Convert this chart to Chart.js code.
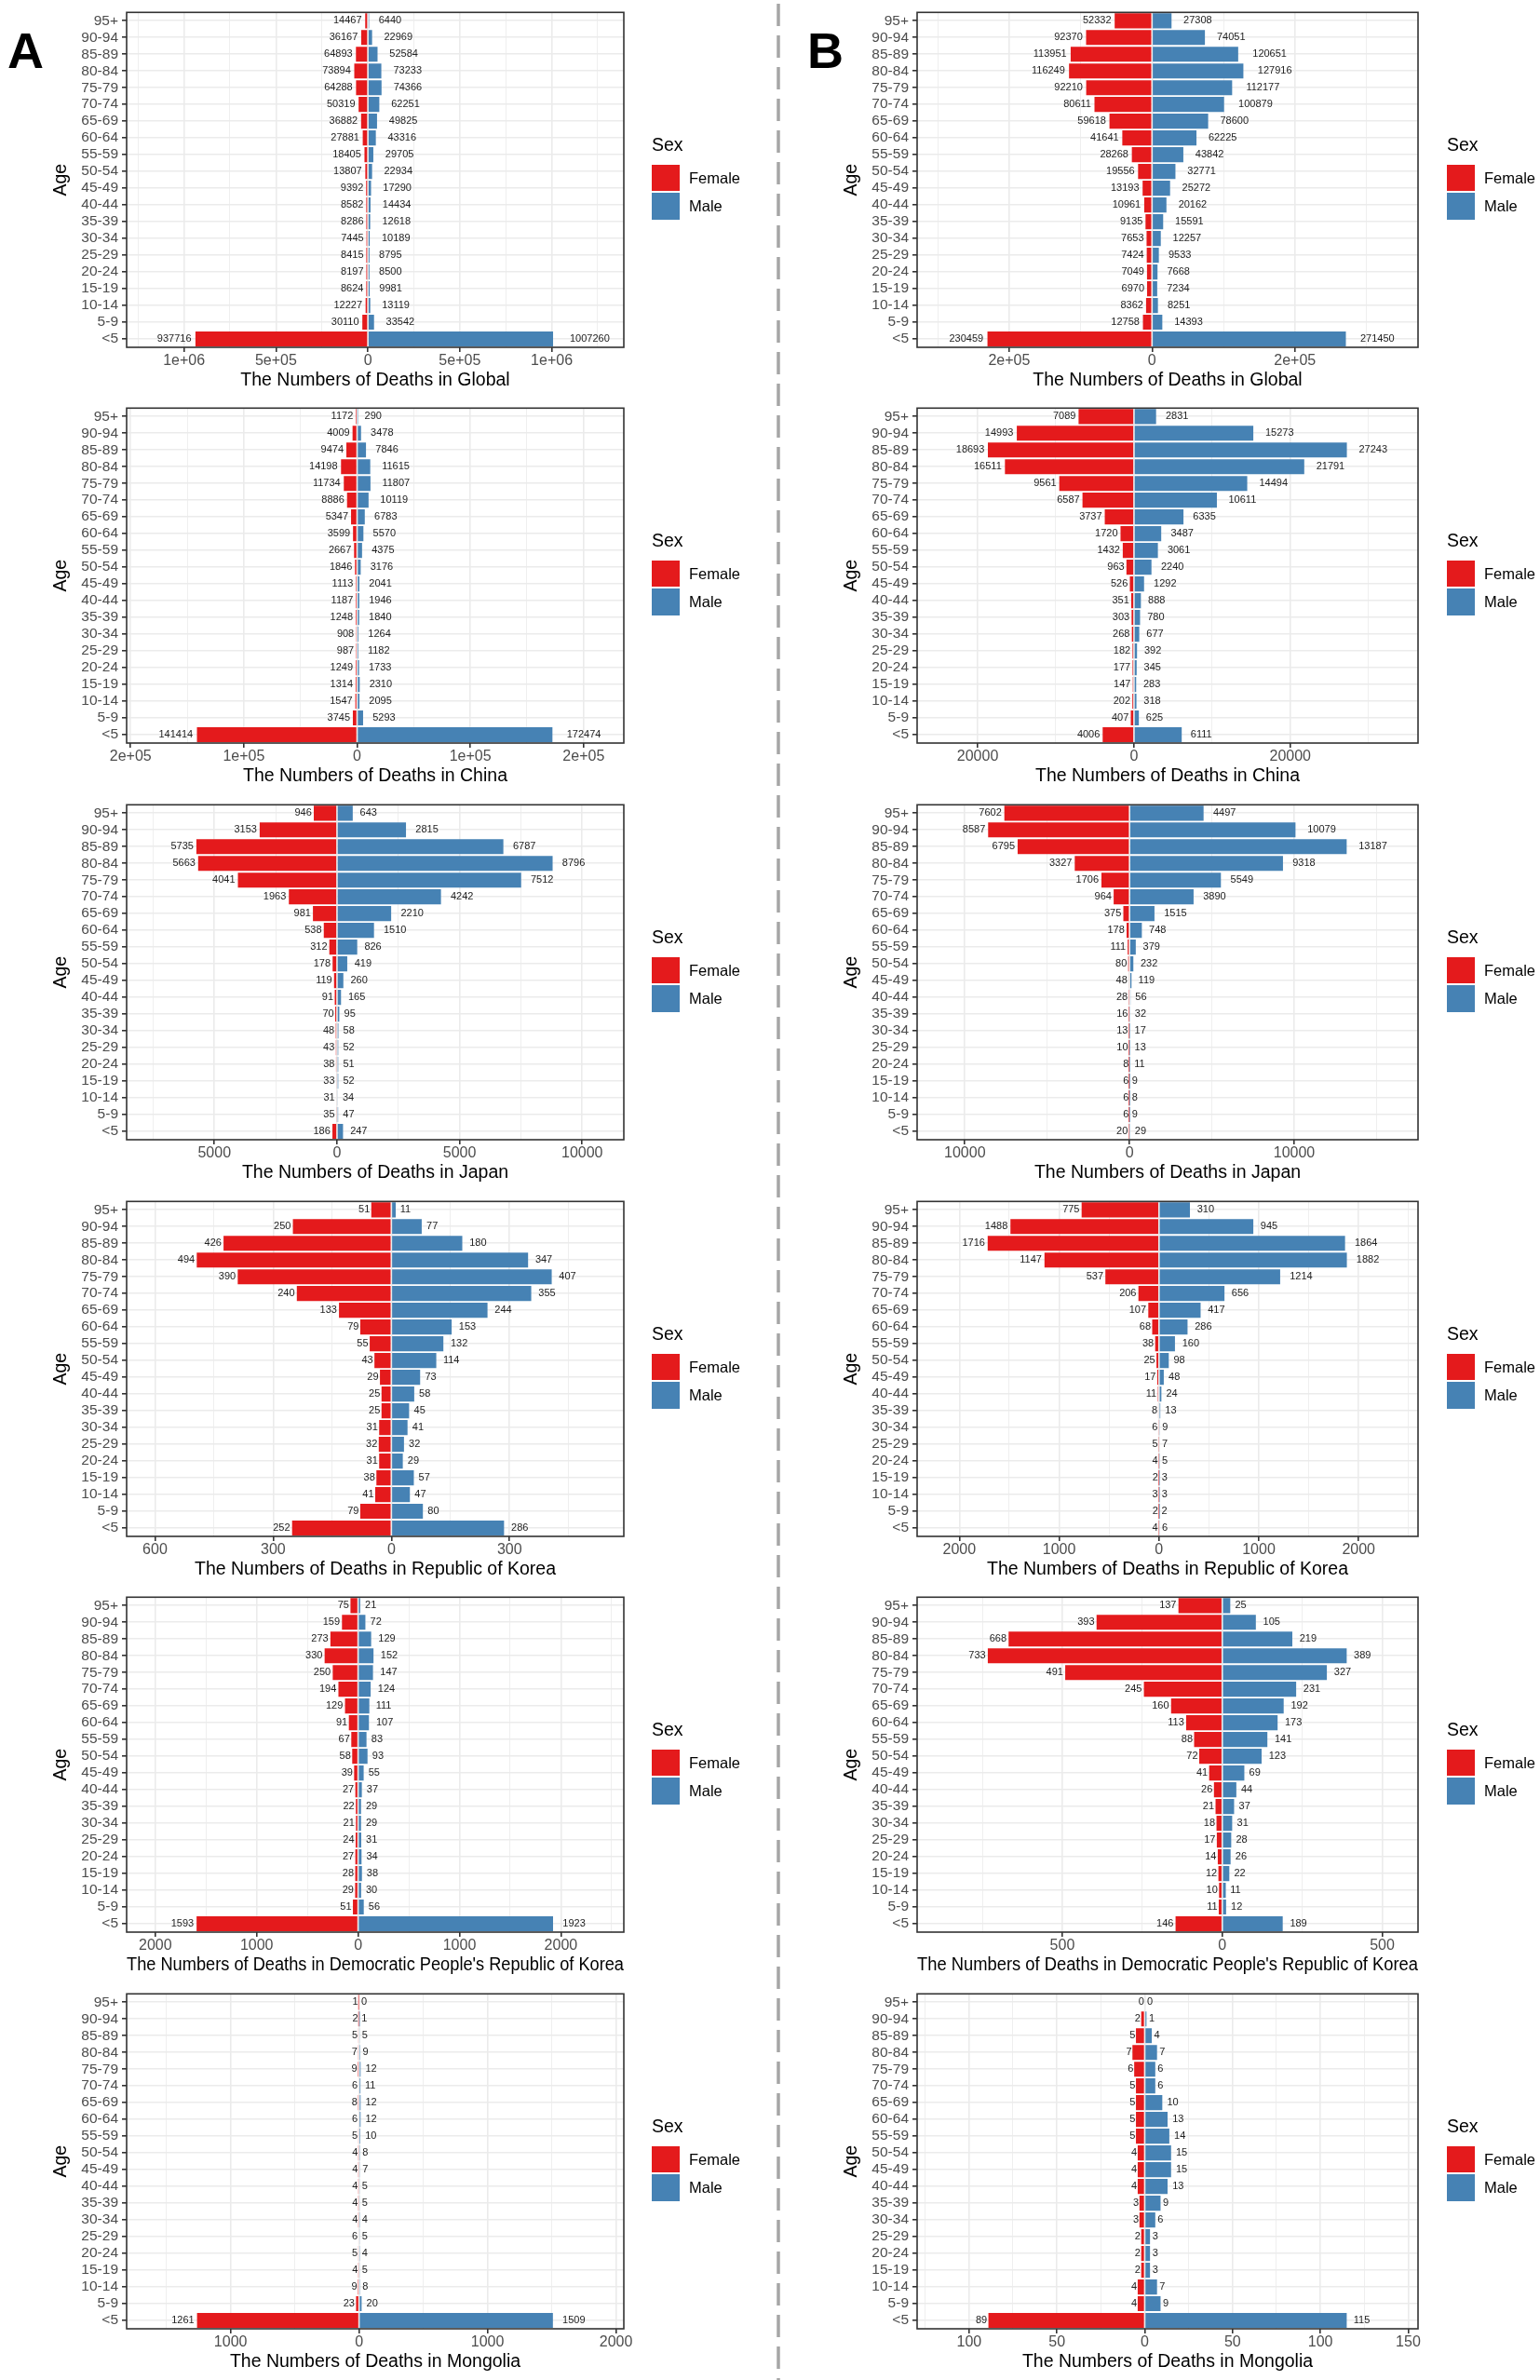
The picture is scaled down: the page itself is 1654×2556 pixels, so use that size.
<!DOCTYPE html>
<html>
<head>
<meta charset="utf-8">
<script src="https://cdn.jsdelivr.net/npm/chart.js@4.4.1/dist/chart.umd.min.js"></script>
<style>
  html, body { margin: 0; padding: 0; background: #fff; }
  #page { position: relative; width: 1654px; height: 2556px; background: #fff; overflow: hidden; }
  #page canvas { position: absolute; }
</style>
</head>
<body>
<div id="page"><canvas id="overlay" width="1654" height="2556" style="left:0;top:0"></canvas></div>
<script>
// age groups, top to bottom
const ageGroups = ['95+', '90-94', '85-89', '80-84', '75-79', '70-74', '65-69', '60-64', '55-59', '50-54',
    '45-49', '40-44', '35-39', '30-34', '25-29', '20-24', '15-19', '10-14', '5-9', '<5'];

// column A
const globalFemaleA = [14467, 36167, 64893, 73894, 64288, 50319, 36882, 27881, 18405, 13807, 9392, 8582, 8286, 7445, 8415, 8197, 8624, 12227, 30110, 937716];
const globalMaleA = [6440, 22969, 52584, 73233, 74366, 62251, 49825, 43316, 29705, 22934, 17290, 14434, 12618, 10189, 8795, 8500, 9981, 13119, 33542, 1007260];
const chinaFemaleA = [1172, 4009, 9474, 14198, 11734, 8886, 5347, 3599, 2667, 1846, 1113, 1187, 1248, 908, 987, 1249, 1314, 1547, 3745, 141414];
const chinaMaleA = [290, 3478, 7846, 11615, 11807, 10119, 6783, 5570, 4375, 3176, 2041, 1946, 1840, 1264, 1182, 1733, 2310, 2095, 5293, 172474];
const japanFemaleA = [946, 3153, 5735, 5663, 4041, 1963, 981, 538, 312, 178, 119, 91, 70, 48, 43, 38, 33, 31, 35, 186];
const japanMaleA = [643, 2815, 6787, 8796, 7512, 4242, 2210, 1510, 826, 419, 260, 165, 95, 58, 52, 51, 52, 34, 47, 247];
const koreaFemaleA = [51, 250, 426, 494, 390, 240, 133, 79, 55, 43, 29, 25, 25, 31, 32, 31, 38, 41, 79, 252];
const koreaMaleA = [11, 77, 180, 347, 407, 355, 244, 153, 132, 114, 73, 58, 45, 41, 32, 29, 57, 47, 80, 286];
const dprkFemaleA = [75, 159, 273, 330, 250, 194, 129, 91, 67, 58, 39, 27, 22, 21, 24, 27, 28, 29, 51, 1593];
const dprkMaleA = [21, 72, 129, 152, 147, 124, 111, 107, 83, 93, 55, 37, 29, 29, 31, 34, 38, 30, 56, 1923];
const mongoliaFemaleA = [1, 2, 5, 7, 9, 6, 8, 6, 5, 4, 4, 4, 4, 4, 6, 5, 4, 9, 23, 1261];
const mongoliaMaleA = [0, 1, 5, 9, 12, 11, 12, 12, 10, 8, 7, 5, 5, 4, 5, 4, 5, 8, 20, 1509];

// column B
const globalFemaleB = [52332, 92370, 113951, 116249, 92210, 80611, 59618, 41641, 28268, 19556, 13193, 10961, 9135, 7653, 7424, 7049, 6970, 8362, 12758, 230459];
const globalMaleB = [27308, 74051, 120651, 127916, 112177, 100879, 78600, 62225, 43842, 32771, 25272, 20162, 15591, 12257, 9533, 7668, 7234, 8251, 14393, 271450];
const chinaFemaleB = [7089, 14993, 18693, 16511, 9561, 6587, 3737, 1720, 1432, 963, 526, 351, 303, 268, 182, 177, 147, 202, 407, 4006];
const chinaMaleB = [2831, 15273, 27243, 21791, 14494, 10611, 6335, 3487, 3061, 2240, 1292, 888, 780, 677, 392, 345, 283, 318, 625, 6111];
const japanFemaleB = [7602, 8587, 6795, 3327, 1706, 964, 375, 178, 111, 80, 48, 28, 16, 13, 10, 8, 6, 6, 6, 20];
const japanMaleB = [4497, 10079, 13187, 9318, 5549, 3890, 1515, 748, 379, 232, 119, 56, 32, 17, 13, 11, 9, 8, 9, 29];
const koreaFemaleB = [775, 1488, 1716, 1147, 537, 206, 107, 68, 38, 25, 17, 11, 8, 6, 5, 4, 2, 3, 2, 4];
const koreaMaleB = [310, 945, 1864, 1882, 1214, 656, 417, 286, 160, 98, 48, 24, 13, 9, 7, 5, 3, 3, 2, 6];
const dprkFemaleB = [137, 393, 668, 733, 491, 245, 160, 113, 88, 72, 41, 26, 21, 18, 17, 14, 12, 10, 11, 146];
const dprkMaleB = [25, 105, 219, 389, 327, 231, 192, 173, 141, 123, 69, 44, 37, 31, 28, 26, 22, 11, 12, 189];
const mongoliaFemaleB = [0, 2, 5, 7, 6, 5, 5, 5, 5, 4, 4, 4, 3, 3, 2, 2, 2, 4, 4, 89];
const mongoliaMaleB = [0, 1, 4, 7, 6, 6, 10, 13, 14, 15, 15, 13, 9, 6, 3, 3, 3, 7, 9, 115];

// x axis limits and major ticks
const globalLimitsA = [-1312000, 1392000];
const globalTicksA = [-1000000, -500000, 0, 500000, 1000000];
const globalTickLabelsA = ['1e+06', '5e+05', '0', '5e+05', '1e+06'];
const globalLimitsB = [-329000, 372500];
const globalTicksB = [-200000, 0, 200000];
const globalTickLabelsB = ['2e+05', '0', '2e+05'];
const chinaLimitsA = [-203500, 235500];
const chinaTicksA = [-200000, -100000, 0, 100000, 200000];
const chinaTickLabelsA = ['2e+05', '1e+05', '0', '1e+05', '2e+05'];
const chinaLimitsB = [-27750, 36350];
const chinaTicksB = [-20000, 0, 20000];
const japanLimitsA = [-8580, 11700];
const japanTicksA = [-5000, 0, 5000, 10000];
const japanLimitsB = [-12900, 17520];
const japanTicksB = [-10000, 0, 10000];
const koreaLimitsA = [-672, 590];
const koreaTicksA = [-600, -300, 0, 300];
const koreaLimitsB = [-2423, 2595];
const koreaTicksB = [-2000, -1000, 0, 1000, 2000];
const dprkLimitsA = [-2283, 2621];
const dprkTicksA = [-2000, -1000, 0, 1000, 2000];
const dprkLimitsB = [-954, 612];
const dprkTicksB = [-500, 0, 500];
const mongoliaLimitsA = [-1809, 2061];
const mongoliaTicksA = [-1000, 0, 1000, 2000];
const mongoliaLimitsB = [-129.6, 155.6];
const mongoliaTicksB = [-100, -50, 0, 50, 100, 150];

const FONT = "'Liberation Sans', Arial, Helvetica, sans-serif";
const femaleColor = '#E41A1C';
const maleColor = '#4682B4';
const gridColor = '#ebebeb';
Chart.defaults.font.family = FONT;

const panels = [
    ['Global', globalFemaleA, globalMaleA, globalLimitsA, globalTicksA, globalTickLabelsA,
     globalFemaleB, globalMaleB, globalLimitsB, globalTicksB, globalTickLabelsB],
    ['China', chinaFemaleA, chinaMaleA, chinaLimitsA, chinaTicksA, chinaTickLabelsA,
     chinaFemaleB, chinaMaleB, chinaLimitsB, chinaTicksB, null],
    ['Japan', japanFemaleA, japanMaleA, japanLimitsA, japanTicksA, null,
     japanFemaleB, japanMaleB, japanLimitsB, japanTicksB, null],
    ['Republic of Korea', koreaFemaleA, koreaMaleA, koreaLimitsA, koreaTicksA, null,
     koreaFemaleB, koreaMaleB, koreaLimitsB, koreaTicksB, null],
    ["Democratic People's Republic of Korea", dprkFemaleA, dprkMaleA, dprkLimitsA, dprkTicksA, null,
     dprkFemaleB, dprkMaleB, dprkLimitsB, dprkTicksB, null],
    ['Mongolia', mongoliaFemaleA, mongoliaMaleA, mongoliaLimitsA, mongoliaTicksA, null,
     mongoliaFemaleB, mongoliaMaleB, mongoliaLimitsB, mongoliaTicksB, null]
];

const rowTops = [13, 438, 864, 1290, 1715, 2141];

// value labels, frame and legend
const panelFrame = {
    id: 'panelFrame',
    afterDatasetsDraw(chart) {
        const ctx = chart.ctx;
        ctx.save();
        ctx.font = '11px ' + FONT;
        ctx.fillStyle = '#222';
        ctx.textBaseline = 'middle';
        chart.data.datasets.forEach((ds, di) => {
            chart.getDatasetMeta(di).data.forEach((bar, i) => {
                const txt = String(Math.abs(ds.data[i]));
                const w = ctx.measureText(txt).width;
                if (di === 0) {
                    ctx.textAlign = 'right';
                    ctx.fillText(txt, bar.x - 0.12 * w, bar.y);
                } else {
                    ctx.textAlign = 'left';
                    ctx.fillText(txt, bar.x + 0.42 * w, bar.y);
                }
            });
        });
        ctx.restore();
    },
    afterDraw(chart, args, opts) {
        const ctx = chart.ctx;
        const a = chart.chartArea;
        ctx.save();
        ctx.strokeStyle = '#333';
        ctx.lineWidth = 1.6;
        ctx.strokeRect(a.left, a.top, a.right - a.left, a.bottom - a.top);

        const lx = opts.legendX;
        ctx.fillStyle = '#000';
        ctx.textAlign = 'left';
        ctx.textBaseline = 'middle';
        ctx.font = '19.5px ' + FONT;
        ctx.fillText('Sex', lx, 157);
        ctx.fillStyle = femaleColor;
        ctx.fillRect(lx, 177, 30, 28);
        ctx.fillStyle = maleColor;
        ctx.fillRect(lx, 207, 30, 29);
        ctx.fillStyle = '#000';
        ctx.font = '16.5px ' + FONT;
        ctx.fillText('Female', lx + 40, 192);
        ctx.fillText('Male', lx + 40, 222);
        ctx.restore();
    }
};

function allTicks(majors, limits) {
    const step = majors[1] - majors[0];
    const out = [];
    for (let v = majors[0] - step * Math.ceil((majors[0] - limits[0]) / step); v <= limits[1]; v += step / 2) {
        if (v >= limits[0]) out.push(v);
    }
    return out;
}

function createPyramid(canvas, place, female, male, limits, majors, labels, side) {
    const padRight = side === 0 ? 160 : 131;
    const yWidth = side === 0 ? 136 : 155;
    const ageTitlePad = side === 0 ? 54.3 : 72.5;
    const legendX = side === 0 ? 700 : 724;
    const tickValues = allTicks(majors, limits);
    const isMajor = v => majors.some(m => Math.abs(m - v) < 1e-9);

    return new Chart(canvas, {
        type: 'bar',
        data: {
            labels: ageGroups,
            datasets: [{
                label: 'Female',
                data: female.map(v => -v),
                backgroundColor: femaleColor,
                borderWidth: 0,
                barPercentage: 0.9,
                categoryPercentage: 1
            }, {
                label: 'Male',
                data: male,
                backgroundColor: maleColor,
                borderWidth: 0,
                barPercentage: 0.9,
                categoryPercentage: 1
            }]
        },
        options: {
            indexAxis: 'y',
            responsive: false,
            animation: false,
            layout: {
                padding: { top: 13, right: padRight, bottom: canvas.height - 420, left: 0 }
            },
            scales: {
                x: {
                    type: 'linear',
                    stacked: true,
                    bounds: 'data',
                    min: limits[0],
                    max: limits[1],
                    afterBuildTicks: s => { s.ticks = tickValues.map(v => ({ value: v })); },
                    afterFit: s => { s.height = 47; },
                    border: { display: false },
                    grid: {
                        color: gridColor,
                        lineWidth: c => isMajor(c.tick.value) ? 1.6 : 0.8,
                        tickLength: 5,
                        tickColor: c => isMajor(c.tick.value) ? '#333' : 'rgba(0,0,0,0)'
                    },
                    ticks: {
                        autoSkip: false,
                        maxRotation: 0,
                        padding: 0,
                        color: '#4d4d4d',
                        font: { size: 16 },
                        callback: function (value) {
                            const k = majors.findIndex(m => Math.abs(m - value) < 1e-9);
                            if (k < 0) return '';
                            return labels ? labels[k] : String(Math.abs(value));
                        }
                    },
                    title: {
                        display: true,
                        text: 'The Numbers of Deaths in ' + place,
                        color: '#000',
                        font: { size: 19.5 },
                        padding: { top: 0, bottom: 0 }
                    }
                },
                y: {
                    stacked: true,
                    afterFit: s => { s.width = yWidth; },
                    border: { display: false },
                    grid: {
                        offset: false,
                        color: gridColor,
                        lineWidth: 1.6,
                        tickLength: 5,
                        tickColor: '#333'
                    },
                    ticks: {
                        autoSkip: false,
                        padding: 4,
                        color: '#4d4d4d',
                        font: { size: 15.5 }
                    },
                    title: {
                        display: true,
                        text: 'Age',
                        color: '#000',
                        font: { size: 19.5 },
                        padding: { top: ageTitlePad, bottom: 0 }
                    }
                }
            },
            plugins: {
                legend: { display: false },
                tooltip: { enabled: false },
                panelFrame: { legendX: legendX }
            }
        },
        plugins: [panelFrame]
    });
}

// dashed divider and panel letters
const ov = document.getElementById('overlay').getContext('2d');
ov.strokeStyle = '#a6a6a6';
ov.lineWidth = 3.5;
ov.setLineDash([24, 10]);
ov.beginPath();
ov.moveTo(836, 4);
ov.lineTo(836, 2556);
ov.stroke();
ov.fillStyle = '#000';
ov.font = 'bold 54px ' + FONT;
ov.textBaseline = 'alphabetic';
ov.fillText('A', 8, 73);
ov.fillText('B', 867, 73);

const page = document.getElementById('page');
panels.forEach((p, r) => {
    const top = rowTops[r] - 13;
    const h = r === panels.length - 1 ? 2556 - top : 425;
    [0, 1].forEach(side => {
        const c = document.createElement('canvas');
        c.width = side === 0 ? 830 : 824;
        c.height = h;
        c.style.left = (side === 0 ? 0 : 830) + 'px';
        c.style.top = top + 'px';
        c.style.width = c.width + 'px';
        c.style.height = h + 'px';
        page.appendChild(c);
        const o = side * 5;
        createPyramid(c, p[0], p[1 + o], p[2 + o], p[3 + o], p[4 + o], p[5 + o], side);
    });
});
</script>
</body>
</html>
